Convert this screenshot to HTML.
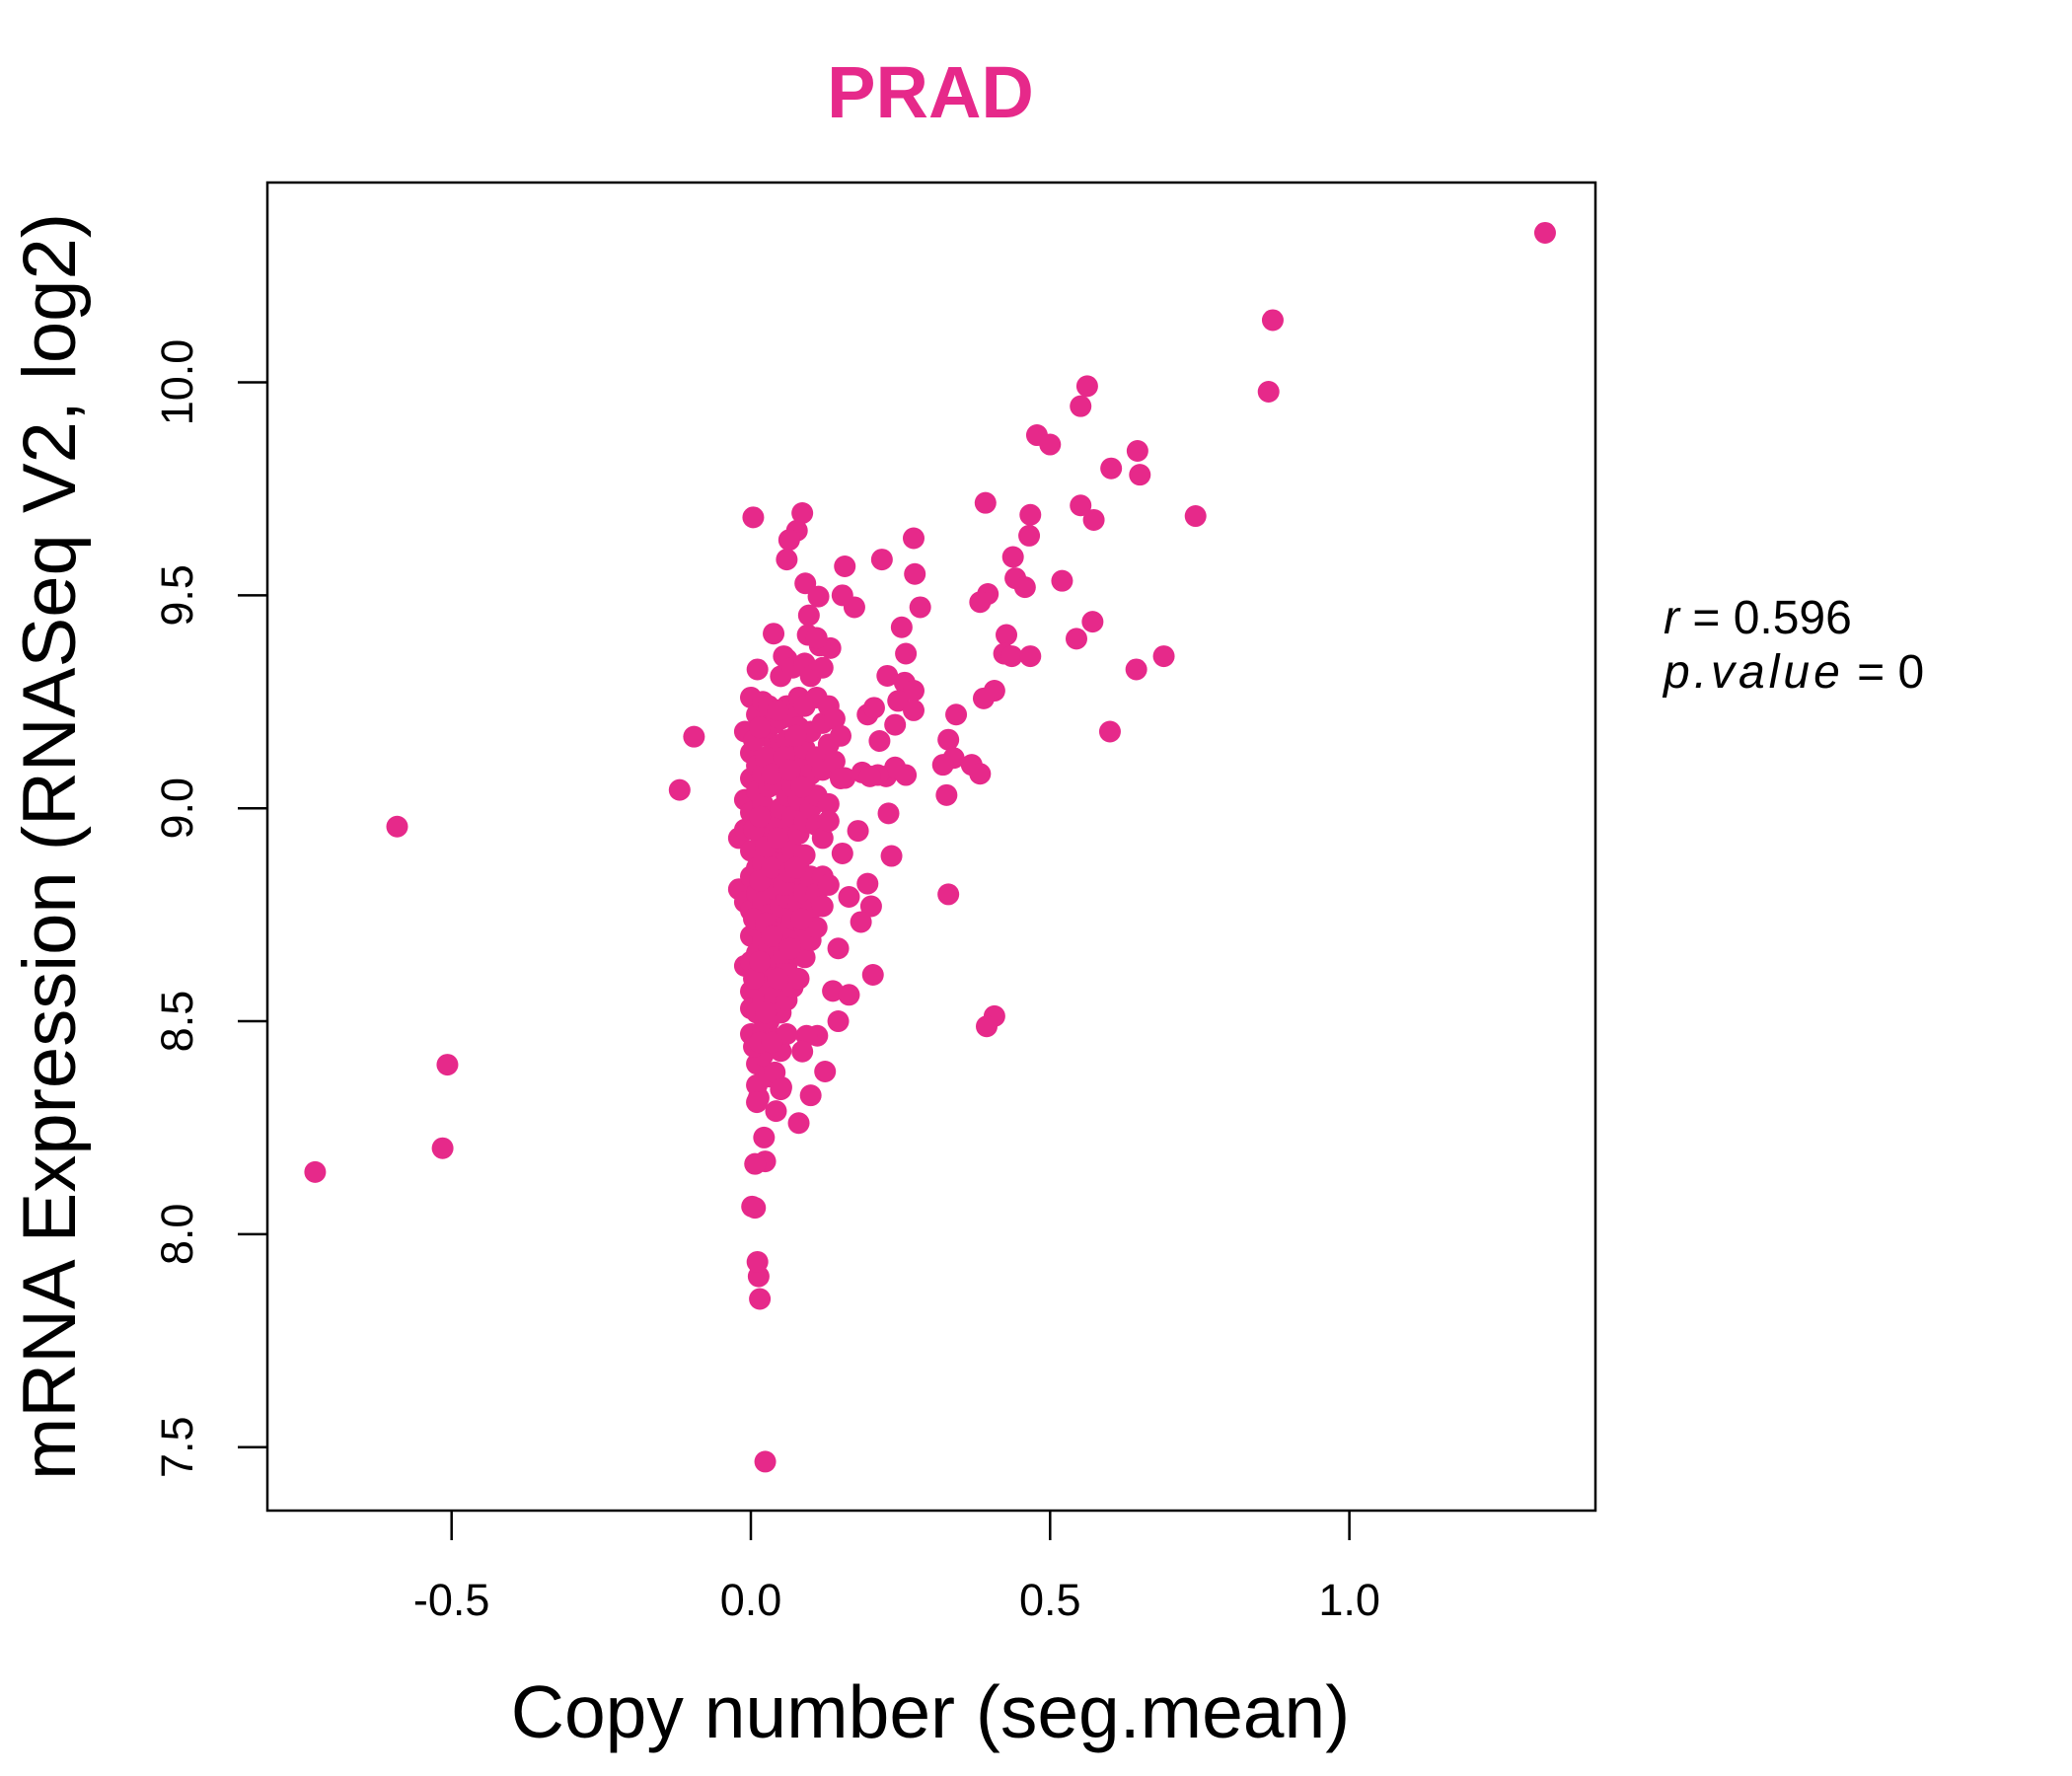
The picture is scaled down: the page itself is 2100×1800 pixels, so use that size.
<!DOCTYPE html>
<html><head><meta charset="utf-8">
<style>
html,body{margin:0;padding:0;background:#fff;}
svg{display:block;font-family:"Liberation Sans",sans-serif;}
</style></head>
<body>
<svg id="chart" width="2100" height="1800" viewBox="0 0 2100 1800" xmlns="http://www.w3.org/2000/svg">
<rect width="2100" height="1800" fill="#fff"/>
<text x="943" y="119" text-anchor="middle" font-size="74" font-weight="bold" fill="#E6298A">PRAD</text>
<rect x="271" y="185" width="1346" height="1346" fill="none" stroke="#000" stroke-width="2.5"/>
<g id="xaxis"></g>
<g id="yaxis"></g>
<g id="points"></g>
<text x="943" y="1761" text-anchor="middle" font-size="75">Copy number (seg.mean)</text>
<text transform="translate(76,858) rotate(-90)" text-anchor="middle" font-size="76">mRNA Expression (RNASeq V2, log2)</text>
<text x="1686" y="642" font-size="48"><tspan font-style="italic">r</tspan> = 0.596</text>
<text x="1686" y="697" font-size="48"><tspan font-style="italic" letter-spacing="4">p.value</tspan> = 0</text>
</svg>
<script>
const xTicks = [-0.5, 0.0, 0.5, 1.0];
const xTickLabels = ["-0.5", "0.0", "0.5", "1.0"];
const yTicks = [7.5, 8.0, 8.5, 9.0, 9.5, 10.0];
const yTickLabels = ["7.5", "8.0", "8.5", "9.0", "9.5", "10.0"];
const outlierX = [1.327,0.872,0.865,0.562,0.551,0.478,0.500,0.646,0.650,0.602,0.743,0.392,0.467,0.551,0.573,0.465,0.438,0.520,0.442,0.458,0.396,0.383,0.571,0.427,0.544,0.423,0.436,0.467,0.690,0.644,0.407,0.389,0.343,0.600,0.330,0.339,0.321,0.369,0.383,0.327,0.330,0.407,0.394,0.272,0.219,0.274,0.283,0.252,0.259,0.228,0.257,0.272,0.246,0.272,0.241,0.215,0.226,0.241,0.259,0.212,0.186,0.157,0.230,0.235,0.179,0.195,0.201,0.184,0.164,0.204,0.146,0.137,0.164,0.146,0.124,0.111,0.093,0.086,0.100,0.080,0.153,0.199,0.195,0.206,0.157,0.173,0.153,0.133,0.086,0.077,0.064,0.060,0.004,0.091,0.113,0.097,0.038,0.095,0.115,0.055,0.011,-0.095,-0.119,-0.591,-0.507,-0.515,-0.728,0.024,0.015,0.013,0.011,0.007,0.002,0.024,0.007,0.022,0.042,0.013,0.051];
const outlierY = [10.351,10.146,9.978,9.991,9.944,9.876,9.854,9.839,9.783,9.798,9.686,9.717,9.689,9.711,9.677,9.640,9.590,9.534,9.540,9.519,9.503,9.484,9.438,9.407,9.398,9.363,9.357,9.357,9.357,9.326,9.276,9.258,9.220,9.180,9.161,9.118,9.102,9.102,9.081,9.031,8.798,8.512,8.488,9.634,9.584,9.550,9.472,9.425,9.363,9.311,9.295,9.276,9.252,9.230,9.196,9.158,9.075,9.096,9.078,9.078,9.084,9.071,8.988,8.888,8.947,8.823,8.770,8.733,8.792,8.609,8.671,8.571,8.562,8.500,8.382,8.466,8.466,8.429,8.326,8.261,8.894,9.075,9.220,9.236,9.568,9.472,9.500,9.376,9.693,9.652,9.630,9.584,9.683,9.528,9.497,9.453,9.410,9.407,9.382,9.357,9.326,9.168,9.043,8.957,8.398,8.202,8.146,7.466,7.848,7.901,7.935,8.062,8.065,8.171,8.165,8.227,8.289,8.320,8.345];
const clusterX = [-0.02,-0.02,-0.01,-0.01,-0.01,-0.01,-0.01,
0,0,0,0,0,0,0,0,0,0,0,0,
0.01,0.01,0.01,0.01,0.01,0.01,0.01,0.01,0.01,0.01,0.01,0.01,0.01,
0.02,0.02,0.02,0.02,0.02,0.02,0.02,0.02,0.02,0.02,0.02,0.02,
0.03,0.03,0.03,0.03,0.03,0.03,0.03,0.03,0.03,0.03,0.03,0.03,
0.04,0.04,0.04,0.04,0.04,0.04,0.04,0.04,0.04,0.04,0.04,
0.05,0.05,0.05,0.05,0.05,0.05,0.05,0.05,0.05,0.05,0.05,0.05,0.05,
0.06,0.06,0.06,0.06,0.06,0.06,0.06,0.06,0.06,0.06,0.06,
0.07,0.07,0.07,0.07,0.07,0.07,0.07,0.07,0.07,0.07,
0.08,0.08,0.08,0.08,0.08,0.08,0.08,0.08,0.08,
0.09,0.09,0.09,0.09,0.09,0.09,0.09,0.09,0.09,
0.10,0.10,0.10,0.10,0.10,0.10,0.10,
0.11,0.11,0.11,0.11,0.11,0.11,0.11,
0.12,0.12,0.12,0.12,0.12,0.12,
0.13,0.13,0.13,0.13,0.13,
0.14,0.14,0.15,0.15,
0.005,0.005,0.005,0.005,0.005,0.015,0.015,0.015,0.015,0.015,
0.025,0.025,0.025,0.025,0.035,0.035,0.035,0.035,0.045,0.045,0.045,
0.055,0.055,0.055,0.065,0.065,0.065,0.075,0.075,0.085,0.085];
const clusterY = [8.81,8.93,9.02,8.78,9.18,8.95,8.63,
9.26,9.13,9.07,8.99,8.90,8.84,8.76,8.70,8.64,8.57,8.47,8.53,
9.22,9.10,9.04,8.96,8.86,8.80,8.72,8.66,8.60,8.52,8.40,8.35,8.31,
9.25,9.17,9.08,9.01,8.93,8.87,8.78,8.69,8.62,8.55,8.48,8.42,
9.24,9.19,9.12,9.05,8.98,8.91,8.83,8.75,8.67,8.58,8.50,8.37,
9.20,9.14,9.06,8.97,8.89,8.81,8.73,8.65,8.56,8.46,8.38,
9.31,9.21,9.15,9.09,9.00,8.92,8.85,8.77,8.70,8.61,8.52,8.43,8.34,
9.35,9.24,9.16,9.03,8.95,8.88,8.79,8.71,8.63,8.55,8.47,
9.33,9.22,9.12,9.05,8.98,8.90,8.82,8.74,8.66,8.58,
9.26,9.19,9.10,9.02,8.94,8.86,8.78,8.69,8.60,
9.34,9.24,9.14,9.06,8.97,8.89,8.80,8.72,8.65,
9.31,9.18,9.08,9.00,8.84,8.76,8.69,
9.40,9.26,9.12,9.03,8.96,8.80,8.72,
9.33,9.20,9.09,8.93,8.84,8.77,
9.24,9.15,9.01,8.97,8.82,
9.21,9.11,9.17,9.07,
9.16,8.95,8.74,8.60,8.44,9.19,8.98,8.83,8.64,8.45,
9.12,8.91,8.73,8.52,9.08,8.86,8.70,8.45,9.23,8.93,8.60,
9.12,8.82,8.66,9.09,8.85,8.67,9.17,8.86,9.05,8.74];

const NS = "http://www.w3.org/2000/svg";
function xScale(v){ return 761 + v * 606.6; }
function yScale(v){ return 819.2 - (v - 9) * 431.7; }

const xg = document.getElementById('xaxis');
xTicks.forEach((t, i) => {
  const l = document.createElementNS(NS, 'line');
  l.setAttribute('x1', xScale(t)); l.setAttribute('x2', xScale(t));
  l.setAttribute('y1', 1531); l.setAttribute('y2', 1561);
  l.setAttribute('stroke', '#000'); l.setAttribute('stroke-width', '2.5');
  
  
  xg.appendChild(l);
  const tx = document.createElementNS(NS, 'text');
  tx.setAttribute('x', xScale(t)); tx.setAttribute('y', 1637);
  tx.setAttribute('text-anchor', 'middle'); tx.setAttribute('font-size', '45');
  tx.textContent = xTickLabels[i];
  
  
  xg.appendChild(tx);
});
const yg = document.getElementById('yaxis');
yTicks.forEach((t, i) => {
  const l = document.createElementNS(NS, 'line');
  l.setAttribute('x1', 241); l.setAttribute('x2', 271);
  l.setAttribute('y1', yScale(t)); l.setAttribute('y2', yScale(t));
  l.setAttribute('stroke', '#000'); l.setAttribute('stroke-width', '2.5');
  
  
  yg.appendChild(l);
  const tx = document.createElementNS(NS, 'text');
  tx.setAttribute('transform', 'translate(195,' + yScale(t) + ') rotate(-90)');
  tx.setAttribute('text-anchor', 'middle'); tx.setAttribute('font-size', '45');
  tx.textContent = yTickLabels[i];
  
  
  yg.appendChild(tx);
});
const pg = document.getElementById('points');
function addPoint(x, y){
  const c = document.createElementNS(NS, 'circle');
  c.setAttribute('cx', xScale(x)); c.setAttribute('cy', yScale(y));
  c.setAttribute('r', 11); c.setAttribute('fill', '#E6298A');
  
  
  pg.appendChild(c);
}
outlierX.forEach((x, i) => addPoint(x, outlierY[i]));
clusterX.forEach((x, i) => addPoint(x, clusterY[i]));
</script>
</body></html>
